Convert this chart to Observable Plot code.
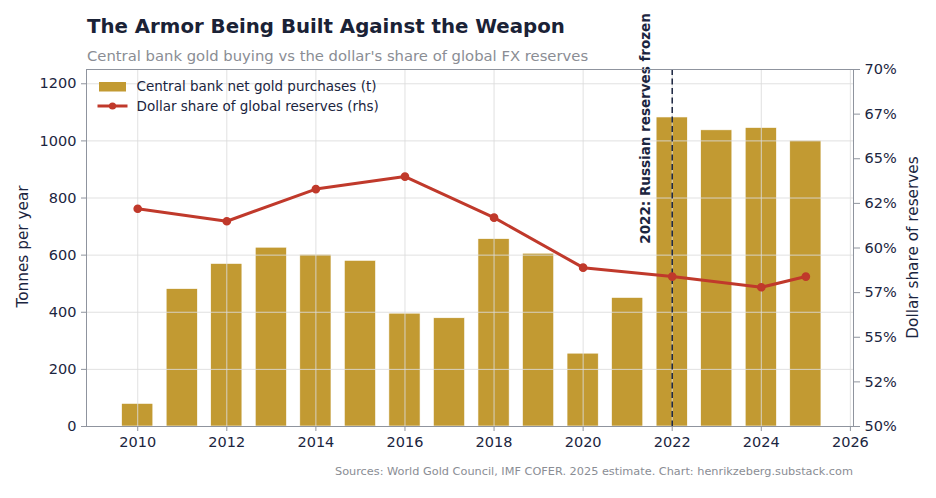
<!DOCTYPE html>
<html><head><meta charset="utf-8">
<script src="https://cdn.jsdelivr.net/npm/d3@7"></script>
<script src="https://cdn.jsdelivr.net/npm/@observablehq/plot@0.6"></script>
<style>
body{margin:0;background:#fff;}
#wrap{width:936px;height:498px;}
</style></head><body><div id="wrap"></div>
<script>
// ---- data ----
const years = [2010,2011,2012,2013,2014,2015,2016,2017,2018,2019,2020,2021,2022,2023,2024,2025];
const goldTonnes = [79,481,569,626,601,580,395,379,656,605,255,450,1082,1037,1045,1000];
const shareYears = [2010,2012,2014,2016,2018,2020,2022,2024,2025];
const dollarShare = [62.2,61.5,63.3,64.0,61.7,58.9,58.4,57.8,58.4];
const xTicks = [2010,2012,2014,2016,2018,2020,2022,2024,2026];
const leftTicks = [0,200,400,600,800,1000,1200];
const rightTicks = [50,52.5,55,57.5,60,62.5,65,67.5,70];
const rightTickLabels = ["50%","52%","55%","57%","60%","62%","65%","67%","70%"];
const annotation = {year:2022, label:"2022: Russian reserves frozen"};
const titleText = "The Armor Being Built Against the Weapon";
const subtitleText = "Central bank gold buying vs the dollar's share of global FX reserves";
const captionText = "Sources: World Gold Council, IMF COFER. 2025 estimate. Chart: henrikzeberg.substack.com";
const legendLabels = ["Central bank net gold purchases (t)","Dollar share of global reserves (rhs)"];

// ---- style ----
const GOLD="#c29a32", RED="#c0392b", NAVY="#1b2540", SPINE="#8f949e", GRID="#dcdcdc", GRAY="#8a8d94";
const FONT="DejaVu Sans";
const yMax = 1250, pMin = 50, pMax = 70;
const toT = p => (p - pMin) / (pMax - pMin) * yMax;
const rightLabel = new Map(rightTicks.map((p,i)=>[toT(p).toFixed(3), rightTickLabels[i]]));

const barData = years.map((year,i)=>({year, tonnes: goldTonnes[i]}));
const lineData = shareYears.map((year,i)=>({year, share: dollarShare[i], t: toT(dollarShare[i])}));

const plot = Plot.plot({
  width:936, height:498,
  marginTop:69, marginRight:83, marginBottom:72, marginLeft:86,
  style:{fontFamily:FONT, background:"white", color:NAVY},
  x:{domain:[2008.85,2026.07]},
  y:{domain:[0,yMax]},
  marks:[
    Plot.rect(barData,{x1:d=>d.year-0.35, x2:d=>d.year+0.35, y1:0, y2:"tonnes", fill:GOLD, stroke:"white", strokeWidth:0.6}),
    Plot.gridX(xTicks,{stroke:GRID, strokeOpacity:0.85, strokeWidth:1}),
    Plot.gridY(leftTicks,{stroke:GRID, strokeOpacity:0.85, strokeWidth:1}),
    Plot.ruleX([annotation],{x:"year", stroke:NAVY, strokeDasharray:"6,3.5", strokeWidth:1.5}),
    Plot.line(lineData,{x:"year", y:"t", stroke:RED, strokeWidth:3}),
    Plot.dot(lineData,{x:"year", y:"t", r:3.6, fill:RED, stroke:RED}),
    Plot.text([annotation],{x:"year", y:()=>640, text:"label", rotate:-90, textAnchor:"start", dx:-27, fontWeight:"bold", fontSize:13.5, fill:NAVY}),
    Plot.frame({stroke:SPINE}),
    Plot.axisX(xTicks,{tickFormat:d=>String(d), label:null, tickSize:5, tickPadding:5, fontSize:14.5, stroke:SPINE, fill:NAVY}),
    Plot.axisY(leftTicks,{anchor:"left", label:null, tickFormat:d=>String(d), tickSize:5, tickPadding:5, fontSize:14.5, stroke:SPINE, fill:NAVY}),
    Plot.axisY(rightTicks.map(toT),{anchor:"right", label:null, tickFormat:d=>rightLabel.get(d.toFixed(3)), tickSize:6, tickPadding:5, fontSize:14.5, stroke:SPINE, fill:NAVY}),
    Plot.text(["Tonnes per year"],{frameAnchor:"left", textAnchor:"middle", rotate:-90, dx:-63.5, dy:-1.5, fontSize:15.3, fill:NAVY}),
    Plot.text(["Dollar share of reserves"],{frameAnchor:"right", textAnchor:"middle", rotate:-90, dx:60, dy:-0.5, fontSize:15.3, fill:NAVY})
  ]
});

const svg = d3.select(plot);
svg.append("text").attr("x",87).attr("y",32.5).attr("text-anchor","start").attr("font-family",FONT).attr("font-weight","bold")
  .attr("font-size",19.75).attr("fill","#1a2236").text(titleText);
svg.append("text").attr("x",87).attr("y",61).attr("text-anchor","start").attr("font-family",FONT)
  .attr("font-size",14.8).attr("fill",GRAY).text(subtitleText);
svg.append("text").attr("x",853).attr("y",475).attr("text-anchor","end").attr("font-family",FONT)
  .attr("font-size",11.3).attr("fill",GRAY).text(captionText);
// legend
const lg = svg.append("g").attr("font-family",FONT).attr("font-size",13.5).attr("fill",NAVY).attr("text-anchor","start");
lg.append("rect").attr("x",99).attr("y",82).attr("width",27).attr("height",9.5).attr("fill",GOLD);
lg.append("text").attr("x",136.5).attr("y",91).text(legendLabels[0]);
lg.append("line").attr("x1",97.5).attr("x2",127.5).attr("y1",106).attr("y2",106).attr("stroke",RED).attr("stroke-width",3);
lg.append("circle").attr("cx",112.5).attr("cy",106).attr("r",3.6).attr("fill",RED);
lg.append("text").attr("x",136.5).attr("y",110.5).text(legendLabels[1]);

document.getElementById("wrap").appendChild(plot);
</script>
</body></html>
